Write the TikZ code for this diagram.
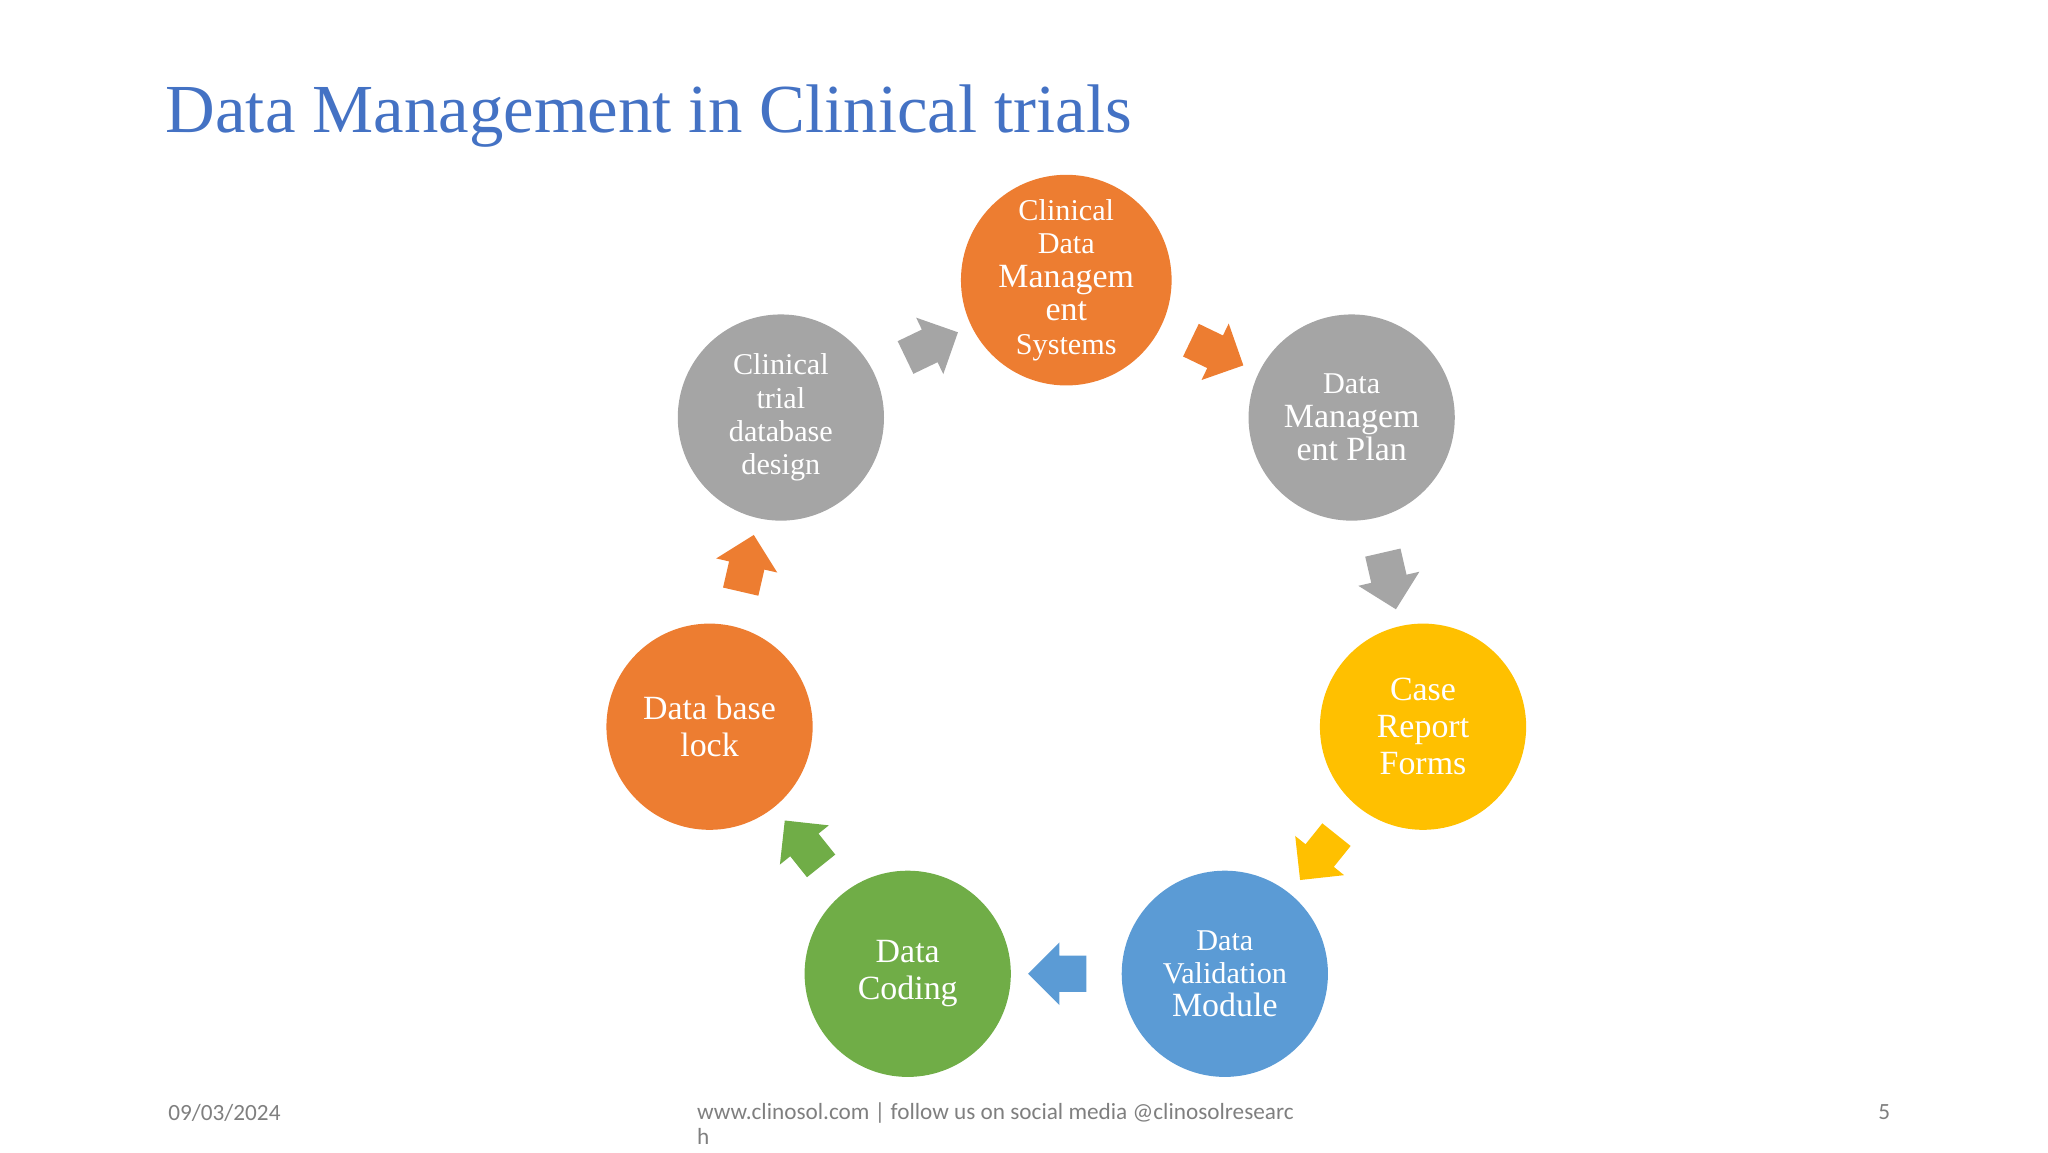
\documentclass[tikz,border=0pt]{standalone}
\usepackage{fontspec}
\setmainfont{Liberation Serif}
\newfontfamily\footfont{Carlito}
\usetikzlibrary{shapes.arrows, calc}
\definecolor{corange}{HTML}{ED7D31}
\definecolor{cgray}{HTML}{A5A5A5}
\definecolor{cyellow}{HTML}{FFC000}
\definecolor{cblue}{HTML}{5B9BD5}
\definecolor{cgreen}{HTML}{70AD47}
\definecolor{ctitle}{HTML}{4472C4}
\definecolor{cfoot}{HTML}{7F7F7F}

\begin{document}
\begin{tikzpicture}[x=0.01cm,y=-0.01cm]
        \tikzset{stage/.style={circle,minimum size=1.56cm,inner sep=0pt,text=white,align=center,font=\fontsize{6.5}{7.2}\selectfont},
                 big/.style={font=\fontsize{7.3}{8}\selectfont},
                 blk/.style={single arrow,minimum height=0.44cm,minimum width=0.46cm,inner xsep=0pt,inner ysep=0.13cm,
                             single arrow head extend=0.1cm,single arrow tip angle=90}}
        \useasboundingbox (0,0) rectangle (1550,872);

        \node[anchor=west,text=ctitle,font=\fontsize{14.8}{16}\selectfont] (title) at (113,88) {Data Management in Clinical trials};

        \node[stage,fill=corange] (cdms) at (807,212) {Clinical\\Data\\{\fontsize{7.3}{7.8}\selectfont Managem}\\{\fontsize{7.3}{7.8}\selectfont ent}\\Systems};
        \node[stage,fill=cgray]   (dmp)  at (1023,316) {Data\\{\fontsize{7.3}{8}\selectfont Managem}\\{\fontsize{7.3}{8}\selectfont ent Plan}};
        \node[stage,big,fill=cyellow] (crf)  at (1077,550) {Case\\Report\\Forms};
        \node[stage,fill=cblue]   (dvm)  at (927,737) {Data\\Validation\\{\fontsize{7.3}{8}\selectfont Module}};
        \node[stage,big,fill=cgreen]  (dc)   at (687,737) {Data\\Coding};
        \node[stage,big,fill=corange] (dbl)  at (537,550) {Data base\\lock};
        \node[stage,fill=cgray]   (ctd)  at (591,316) {Clinical\\trial\\database\\design};

        \node[blk,fill=corange,rotate=-25.7] (a1) at ($(cdms)!0.5!(dmp)$) {};
        \node[blk,fill=cgray,rotate=-77]     (a2) at ($(dmp)!0.5!(crf)$) {};
        \node[blk,fill=cyellow,rotate=-128.7] (a3) at ($(crf)!0.5!(dvm)$) {};
        \node[blk,fill=cblue,rotate=180]     (a4) at ($(dvm)!0.5!(dc)$) {};
        \node[blk,fill=cgreen,rotate=128.7]  (a5) at ($(dc)!0.5!(dbl)$) {};
        \node[blk,fill=corange,rotate=77]    (a6) at ($(dbl)!0.5!(ctd)$) {};
        \node[blk,fill=cgray,rotate=25.7]    (a7) at ($(ctd)!0.5!(cdms)$) {};

        \node[anchor=west,text=cfoot,font=\footfont\fontsize{5}{6}\selectfont] (date) at (115,842) {09/03/2024};
        \node[anchor=north west,text=cfoot,align=left,font=\footfont\fontsize{5}{5.4}\selectfont,inner sep=0pt] (web) at (527,834) {www.clinosol.com | follow us on social media @clinosolresearc\\h};
        \node[anchor=east,text=cfoot,font=\footfont\fontsize{5}{6}\selectfont] (page) at (1443,842) {5};
\end{tikzpicture}
\end{document}
